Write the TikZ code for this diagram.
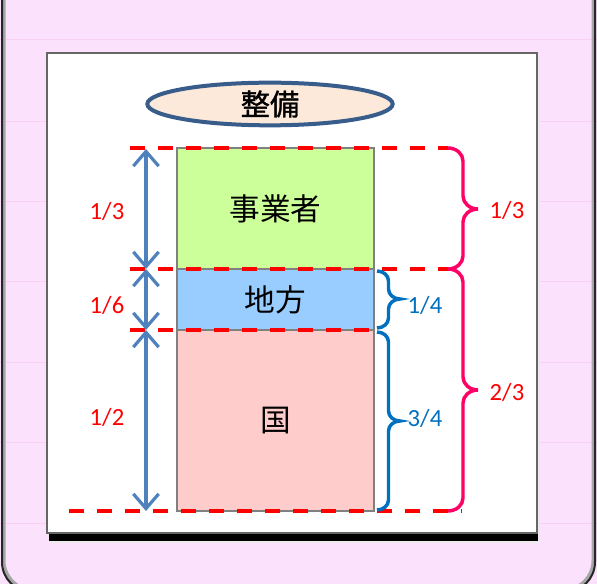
\documentclass[tikz,border=0pt]{standalone}
\usepackage{fontspec}
\setmainfont{Carlito}
\newfontfamily\jp{Noto Sans CJK JP}
\newfontfamily\jpb[FakeBold=1.2]{Noto Sans CJK JP}
\usetikzlibrary{arrows.meta,shapes.geometric}
\definecolor{bgpink}{RGB}{252,225,253}
\definecolor{gridpink}{RGB}{248,208,243}
\definecolor{bargreen}{RGB}{204,255,153}
\definecolor{barblue}{RGB}{153,204,255}
\definecolor{barpink}{RGB}{255,204,204}
\definecolor{ellfill}{RGB}{253,233,217}
\definecolor{elldraw}{RGB}{56,93,138}
\definecolor{arrowblue}{RGB}{79,129,189}
\definecolor{bracepink}{RGB}{255,0,102}
\definecolor{braceblue}{RGB}{0,112,192}
\newcommand\mybrace[7]{% #1 style, #2 x0, #3 yt, #4 yb, #5 h, #6 r, #7 ym
  \draw[#1] (#2,#3) .. controls ({#2+0.552*#5},#3) and ({#2+#5},{#3+0.448*#6}) .. ({#2+#5},{#3+#6})
    -- ({#2+#5},{#7-#6}) .. controls ({#2+#5},{#7-0.448*#6}) and ({#2+1.448*#5},#7) .. ({#2+2*#5},#7)
    .. controls ({#2+1.448*#5},#7) and ({#2+#5},{#7+0.448*#6}) .. ({#2+#5},{#7+#6})
    -- ({#2+#5},{#4-#6}) .. controls ({#2+#5},{#4-0.448*#6}) and ({#2+0.552*#5},#4) .. (#2,#4);}
\tikzset{
  bar/.style={draw=black!50, line width=1.5pt, rectangle, minimum width=147.75pt, inner sep=0pt, font=\jp\fontsize{23}{27}\selectfont},
  reddash/.style={draw=red, line width=3pt, dash pattern=on 11.25pt off 9.75pt},
  dimarrow/.style={draw=arrowblue, line width=2.4pt, {Straight Barb[length=11pt,width=19pt]}-{Straight Barb[length=11pt,width=19pt]}},
  pinkbrace/.style={draw=bracepink, line width=2.6pt},
  bluebrace/.style={draw=braceblue, line width=2.6pt},
  redlbl/.style={text=red, font=\fontsize{18.5}{22}\selectfont, inner sep=0pt},
  bluelbl/.style={text=braceblue, font=\fontsize{18.5}{22}\selectfont, inner sep=0pt},
}
\begin{document}
\begin{tikzpicture}[x=0.75pt,y=-0.75pt]
\useasboundingbox (0,0) rectangle (597,584);
% background
\fill[bgpink] (0,0) rectangle (597,584);
\foreach \g in {40,122,202,282,363,443,524} \draw[gridpink, line width=0.75pt] (0,\g) -- (597,\g);
\draw[black!35, line width=3pt, rounded corners=30pt*0.75] (3.5,-60) rectangle (593.5,590.5);
\draw[black!85, line width=1.5pt, rounded corners=30pt*0.75] (2,-60) rectangle (595,592);
% panel
\fill[black!8] (50,56) rectangle (540,543);
\fill[black] (49,533) rectangle (538,541);
\draw[fill=white, draw=black!60, line width=1.5pt] (47,53) rectangle (537,533);
% ellipse
\node[ellipse, draw=elldraw, fill=ellfill, line width=3pt, minimum width=184pt, minimum height=32pt, inner sep=0pt, font=\jpb\fontsize{22}{25}\selectfont] (seibi) at (270,104) {整備};
% bars
\node[bar, fill=bargreen, minimum height=90.75pt] (jig) at (275.5,208.5) {事業者};
\node[bar, fill=barblue, minimum height=45.75pt] (chiho) at (275.5,299.5) {地方};
\node[bar, fill=barpink, minimum height=135.75pt] (kuni) at (275.5,420.5) {\raisebox{-4pt}{国}};
% dashed lines
\coordinate (d1l) at (130,148); \coordinate (d1r) at (448,148);
\coordinate (d2l) at (130,269); \coordinate (d2r) at (448,269);
\coordinate (d3l) at (130,330); \coordinate (d3r) at (375,330);
\coordinate (d4l) at (69,511);  \coordinate (d4r) at (462,511);
\draw[reddash] (d1l) -- (d1r);
\draw[reddash] (d2l) -- (d2r);
\draw[reddash] (d3l) -- (d3r);
\draw[reddash] (d4l) -- (d4r);
% dimension arrows
\coordinate (a1) at (146,149); \coordinate (a2) at (146,269);
\coordinate (a3) at (146,330); \coordinate (a4) at (146,511);
\draw[dimarrow] (a1) -- (a2);
\draw[dimarrow] (a2) -- (a3);
\draw[dimarrow] (a3) -- (a4);
\node[redlbl] (l13) at (107,211) {1/3};
\node[redlbl] (l16) at (107,305) {1/6};
\node[redlbl] (l12) at (107,417) {1/2};
% braces
\mybrace{pinkbrace}{448}{148}{269}{15}{13}{209}
\mybrace{pinkbrace}{448}{269}{511}{15}{13}{390}
\mybrace{bluebrace}{377}{271}{328}{11.5}{10}{299}
\mybrace{bluebrace}{377}{332}{510}{11.5}{10}{421}
\node[redlbl] (r13) at (507,210) {1/3};
\node[redlbl] (r23) at (507,392) {2/3};
\node[bluelbl] (b14) at (425,305) {1/4};
\node[bluelbl] (b34) at (425,418) {3/4};
\end{tikzpicture}
\end{document}
